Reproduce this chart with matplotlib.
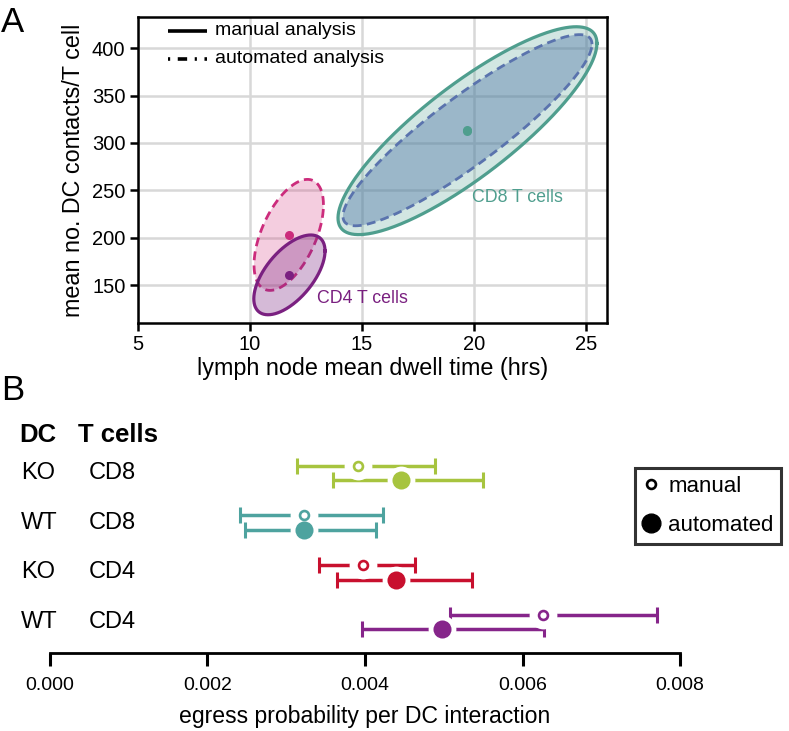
import numpy as np
import matplotlib
matplotlib.use("Agg")
import matplotlib.pyplot as plt
from matplotlib.lines import Line2D
import matplotlib.transforms as mtransforms

plt.rcParams['font.family'] = ['Liberation Sans', 'DejaVu Sans']

# ---------------- Panel A data ----------------
groups_A = ["CD8 manual", "CD8 automated", "CD4 automated", "CD4 manual"]
center_x = [19.71, 19.71, 11.73, 11.76]      # mean dwell time (hrs)
center_y = [313.0, 313.5, 203.0, 160.8]      # mean DC contacts / T cell
spread_x = [5.78, 5.56, 1.55, 1.59]
spread_y = [109.7, 100.9, 58.6, 42.1]
corr_xy = [0.84, 0.90, 0.54, 0.60]
edge_colors = ["#4f9e8e", "#5a73ad", "#cc2c7c", "#7a2080"]
face_colors = ["#4f9e8e", "#4f77a8", "#d63a80", "#7d2a85"]
face_alpha = [0.25, 0.42, 0.25, 0.32]
styles = ["solid", "dashed", "dashed", "solid"]

xticks_A = [5, 10, 15, 20, 25]
yticks_A = [150, 200, 250, 300, 350, 400]

# ---------------- Panel B data ----------------
dc_labels = ["KO", "WT", "KO", "WT"]
tcell_labels = ["CD8", "CD8", "CD4", "CD4"]
row_colors = ["#a7c43f", "#4ea39f", "#c8102e", "#86258a"]
manual_mean = [0.00391, 0.00322, 0.00397, 0.00626]
manual_lo = [0.00314, 0.00241, 0.00341, 0.00508]
manual_hi = [0.00489, 0.00423, 0.00464, 0.00771]
auto_mean = [0.00446, 0.00322, 0.00440, 0.00498]
auto_lo = [0.00360, 0.00247, 0.00365, 0.00396]
auto_hi = [0.00550, 0.00414, 0.00536, 0.00627]
xticks_B = [0.000, 0.002, 0.004, 0.006, 0.008]

W, H = 789, 731
fig = plt.figure(figsize=(W / 100, H / 100), dpi=100)

def fx(px):
    return px / W

def fy(py):
    return 1 - py / H

# ================= Panel A =================
axA = fig.add_axes([fx(138), fy(323), fx(607) - fx(138), fy(17) - fy(323)])
axA.set_xlim(5, 25.94)
axA.set_ylim(110, 433)
axA.set_xticks(xticks_A)
axA.set_yticks(yticks_A)
axA.grid(True, color="#d8d8d8", lw=1.8, zorder=0)
axA.set_axisbelow(True)
for s in axA.spines.values():
    s.set_linewidth(1.8)
axA.tick_params(direction="out", length=6, width=1.8, labelsize=14.5, pad=3)

t = np.linspace(0, 2 * np.pi, 400)
for i in range(4):
    x = center_x[i] + spread_x[i] * np.cos(t)
    y = center_y[i] + spread_y[i] * (corr_xy[i] * np.cos(t) + np.sqrt(1 - corr_xy[i] ** 2) * np.sin(t))
    axA.fill(x, y, color=face_colors[i], alpha=face_alpha[i], lw=0, zorder=2 + i)
    if styles[i] == "dashed":
        axA.plot(x, y, color=edge_colors[i], lw=2.0, ls=(0, (3.2, 1.9)), zorder=3 + i)
    else:
        axA.plot(x, y, color=edge_colors[i], lw=2.3, zorder=3 + i)

# centre dots
for i in [1, 0, 2, 3]:
    axA.plot(center_x[i], center_y[i], "o", ms=6.5, color=edge_colors[i] if i != 1 else edge_colors[0], mec="none", zorder=10)

axA.text(13.0, 136, "CD4 T cells", color="#7a2080", fontsize=12.8, va="center", ha="left", zorder=11)
axA.text(19.9, 243, "CD8 T cells", color="#4f9e8e", fontsize=12.8, va="center", ha="left", zorder=11)

# legend for panel A
axA.plot([0.063, 0.148], [0.955, 0.955], transform=axA.transAxes, color="black", lw=2.6, solid_capstyle="butt", zorder=12)
axA.plot([0.063, 0.148], [0.864, 0.864], transform=axA.transAxes, color="black", lw=2.6,
         ls=(0, (0.6, 2.1, 2.6, 2.1)), zorder=12)
axA.text(0.165, 0.955, "manual analysis", transform=axA.transAxes, fontsize=14, va="center", ha="left", zorder=12)
axA.text(0.165, 0.864, "automated analysis", transform=axA.transAxes, fontsize=14, va="center", ha="left", zorder=12)

axA.set_xlabel("lymph node mean dwell time (hrs)", fontsize=16.8, labelpad=2)
axA.set_ylabel("mean no. DC contacts/T cell", fontsize=16.8, labelpad=5)

fig.text(fx(1), fy(22), "A", fontsize=25, va="center", ha="left")
fig.text(fx(1), fy(391), "B", fontsize=25, va="center", ha="left")

# ================= Panel B =================
axB = fig.add_axes([fx(50), fy(653), fx(680) - fx(50), fy(445) - fy(653)])
axB.set_xlim(0, 0.008)
axB.set_ylim(3.62, -0.56)
for side in ["top", "right", "left"]:
    axB.spines[side].set_visible(False)
axB.spines["bottom"].set_linewidth(2.0)
axB.set_yticks([])
axB.set_xticks(xticks_B)
axB.set_xticklabels([f"{v:.3f}" for v in xticks_B])
axB.tick_params(axis="x", direction="out", length=9, width=2.2, labelsize=14, pad=8)
axB.set_xlabel("egress probability per DC interaction", fontsize=16.6, labelpad=8)

off = 0.145
for i in range(4):
    c = row_colors[i]
    ym = i - off
    ya = i + off
    axB.errorbar(manual_mean[i], ym,
                 xerr=[[manual_mean[i] - manual_lo[i]], [manual_hi[i] - manual_mean[i]]],
                 fmt="none", ecolor=c, elinewidth=2.5, capsize=5.5, capthick=2.2, zorder=2)
    axB.errorbar(auto_mean[i], ya,
                 xerr=[[auto_mean[i] - auto_lo[i]], [auto_hi[i] - auto_mean[i]]],
                 fmt="none", ecolor=c, elinewidth=2.5, capsize=5.5, capthick=2.2, zorder=2)
    # white halos
    axB.plot(manual_mean[i], ym, "o", ms=20, color="white", mec="none", zorder=3)
    axB.plot(auto_mean[i], ya, "o", ms=20, color="white", mec="none", zorder=3)
    axB.plot(manual_mean[i], ym, "o", ms=6.4, mfc="white", mec=c, mew=1.9, zorder=5)
    axB.plot(auto_mean[i], ya, "o", ms=13, color=c, mec="none", zorder=4)

tr = mtransforms.blended_transform_factory(fig.transFigure, axB.transData)
for i in range(4):
    fig.text(fx(21), i, dc_labels[i], transform=tr, fontsize=17, va="center", ha="left")
    fig.text(fx(89), i, tcell_labels[i], transform=tr, fontsize=17, va="center", ha="left")
fig.text(fx(19), fy(435), "DC", fontsize=18.5, fontweight="bold", va="center", ha="left")
fig.text(fx(78), fy(435), "T cells", fontsize=18.5, fontweight="bold", va="center", ha="left")

handles = [Line2D([], [], ls="none", marker="o", ms=6.4, mfc="white", mec="black", mew=1.9),
           Line2D([], [], ls="none", marker="o", ms=13.5, color="black")]
leg = fig.legend(handles, ["manual", "automated"], loc="upper left",
                 bbox_to_anchor=(fx(635), fy(468)), bbox_transform=fig.transFigure,
                 frameon=True, fancybox=False, edgecolor="black", fontsize=16,
                 handlelength=0.7, handletextpad=0.45, borderpad=0.35, labelspacing=0.8,
                 borderaxespad=0, handleheight=0.8)
leg.get_frame().set_linewidth(2.2)

fig.savefig("out.png", dpi=100)
